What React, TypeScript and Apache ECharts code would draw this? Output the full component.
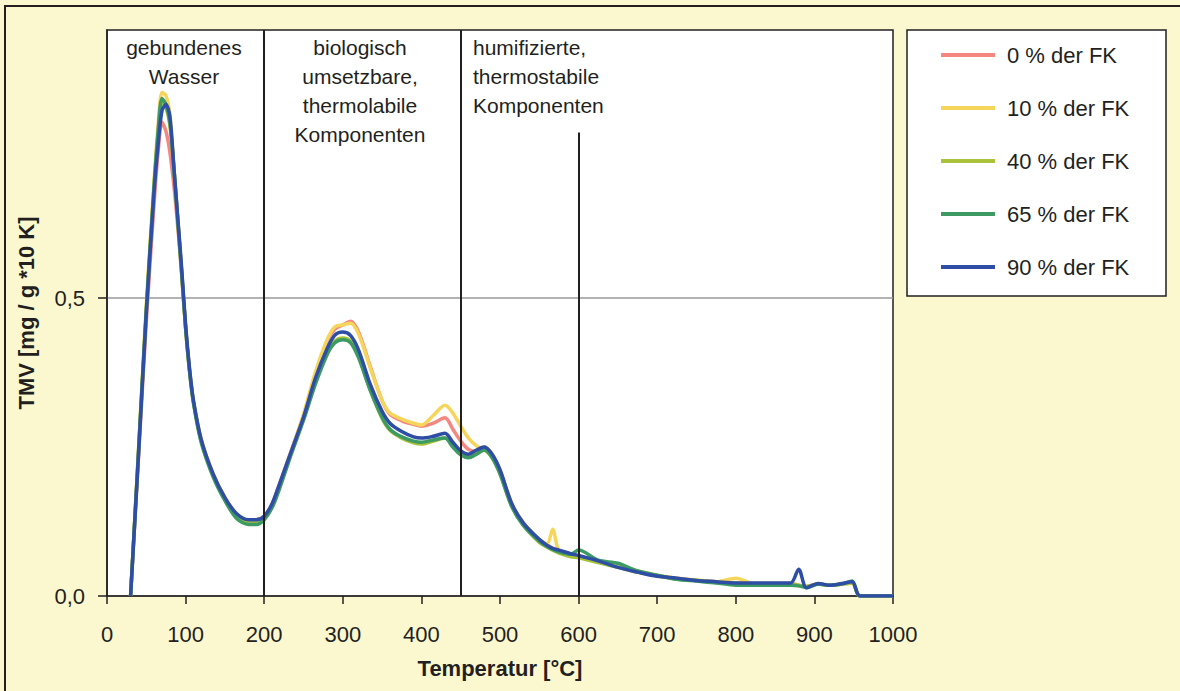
import React, { useEffect, useRef } from "react";
import * as echarts from "echarts";

const temps = [30, 40, 50, 60, 65, 70, 75, 80, 85, 90, 95, 100, 105, 110, 120, 135, 150, 165, 180, 190, 200, 210, 220, 235, 250, 265, 280, 290, 300, 310, 320, 335, 350, 360, 375, 390, 400, 415, 430, 440, 450, 460, 470, 480, 490, 500, 515, 530, 550, 560, 567, 575, 590, 600, 625, 650, 675, 700, 725, 750, 775, 800, 825, 850, 870, 880, 890, 905, 920, 935, 948, 958, 1000];

const fk0 = [0, 0.23, 0.46, 0.66, 0.745, 0.795, 0.78, 0.745, 0.69, 0.62, 0.54, 0.45, 0.38, 0.327, 0.262, 0.205, 0.165, 0.137, 0.127, 0.128, 0.134, 0.154, 0.19, 0.246, 0.303, 0.37, 0.428, 0.448, 0.455, 0.461, 0.443, 0.385, 0.328, 0.305, 0.294, 0.288, 0.285, 0.29, 0.299, 0.28, 0.26, 0.246, 0.243, 0.25, 0.237, 0.21, 0.155, 0.122, 0.094, 0.086, 0.08, 0.076, 0.07, 0.067, 0.058, 0.049, 0.041, 0.034, 0.03, 0.026, 0.024, 0.022, 0.021, 0.021, 0.021, 0.018, 0.016, 0.02, 0.018, 0.02, 0.022, 0, 0];
const fk10 = [0, 0.245, 0.49, 0.7, 0.79, 0.845, 0.84, 0.81, 0.725, 0.635, 0.545, 0.45, 0.38, 0.327, 0.262, 0.205, 0.165, 0.137, 0.126, 0.127, 0.133, 0.152, 0.188, 0.245, 0.305, 0.375, 0.43, 0.452, 0.455, 0.458, 0.44, 0.383, 0.328, 0.307, 0.297, 0.29, 0.287, 0.303, 0.32, 0.307, 0.285, 0.265, 0.252, 0.245, 0.235, 0.21, 0.155, 0.122, 0.094, 0.088, 0.112, 0.076, 0.07, 0.066, 0.058, 0.05, 0.042, 0.035, 0.03, 0.027, 0.024, 0.03, 0.02, 0.02, 0.02, 0.017, 0.016, 0.02, 0.018, 0.02, 0.022, 0, 0];
const fk40 = [0, 0.24, 0.48, 0.69, 0.775, 0.83, 0.82, 0.79, 0.72, 0.632, 0.543, 0.45, 0.378, 0.325, 0.259, 0.202, 0.162, 0.133, 0.123, 0.123, 0.13, 0.15, 0.185, 0.243, 0.298, 0.36, 0.41, 0.428, 0.433, 0.428, 0.403, 0.345, 0.298, 0.278, 0.265, 0.257, 0.255, 0.26, 0.265, 0.252, 0.24, 0.235, 0.24, 0.245, 0.232, 0.205, 0.15, 0.118, 0.09, 0.082, 0.077, 0.072, 0.066, 0.064, 0.056, 0.048, 0.04, 0.034, 0.028, 0.026, 0.023, 0.022, 0.02, 0.02, 0.02, 0.018, 0.016, 0.02, 0.018, 0.02, 0.022, 0, 0];
const fk65 = [0, 0.24, 0.48, 0.69, 0.78, 0.835, 0.825, 0.795, 0.72, 0.63, 0.542, 0.45, 0.377, 0.324, 0.257, 0.2, 0.16, 0.13, 0.12, 0.12, 0.128, 0.148, 0.182, 0.24, 0.295, 0.355, 0.405, 0.425, 0.43, 0.425, 0.4, 0.345, 0.3, 0.28, 0.267, 0.26, 0.258, 0.262, 0.265, 0.25, 0.237, 0.232, 0.238, 0.245, 0.232, 0.205, 0.15, 0.118, 0.092, 0.083, 0.078, 0.074, 0.07, 0.077, 0.06, 0.055, 0.042, 0.035, 0.028, 0.025, 0.022, 0.018, 0.018, 0.018, 0.018, 0.017, 0.014, 0.02, 0.018, 0.02, 0.025, 0, 0];
const fk90 = [0, 0.235, 0.475, 0.68, 0.757, 0.815, 0.825, 0.805, 0.72, 0.635, 0.55, 0.455, 0.382, 0.328, 0.262, 0.205, 0.165, 0.138, 0.128, 0.128, 0.134, 0.155, 0.19, 0.245, 0.3, 0.365, 0.415, 0.438, 0.443, 0.437, 0.413, 0.355, 0.31, 0.29, 0.276, 0.267, 0.265, 0.268, 0.273, 0.258, 0.244, 0.238, 0.245, 0.25, 0.238, 0.212, 0.155, 0.122, 0.095, 0.085, 0.08, 0.077, 0.071, 0.068, 0.059, 0.048, 0.04, 0.033, 0.03, 0.026, 0.024, 0.022, 0.022, 0.022, 0.022, 0.045, 0.014, 0.021, 0.018, 0.021, 0.024, 0, 0];

const seriesNames = ["0 % der FK", "10 % der FK", "40 % der FK", "65 % der FK", "90 % der FK"];
const seriesValues = [fk0, fk10, fk40, fk65, fk90];
const seriesColors = ["#F4877F", "#F6D65A", "#A8C23A", "#3C9A62", "#2E4DA5"];

const xTicks = [0, 100, 200, 300, 400, 500, 600, 700, 800, 900, 1000];
const yTicks = [0, 0.5];
const yTickLabels = ["0,0", "0,5"];
const boundaries = [200, 450];
const shortBoundary = 600;
const shortBoundaryTop = 0.778;

const regionLabels = [
  "gebundenes\nWasser",
  "biologisch\numsetzbare,\nthermolabile\nKomponenten",
  "humifizierte,\nthermostabile\nKomponenten",
];

const FONT = "'Liberation Sans', Arial, Helvetica, sans-serif";
const INK = "#231f20";

export default function App() {
  const ref = useRef<HTMLDivElement>(null);

  useEffect(() => {
    document.body.style.margin = "0";
    const chart = echarts.init(ref.current!, null, { renderer: "svg" });

    const markLineData: any[] = boundaries.map((b) => [
      { coord: [b, 0] },
      { coord: [b, 0.95] },
    ]);
    markLineData.push([{ coord: [shortBoundary, 0] }, { coord: [shortBoundary, shortBoundaryTop] }]);

    const series: any[] = seriesValues.map((vals, i) => ({
      name: seriesNames[i],
      type: "line",
      data: temps.map((t, j) => [t, vals[j]]),
      showSymbol: false,
      smooth: 0.3,
      lineStyle: { color: seriesColors[i], width: 3.5 },
      itemStyle: { color: seriesColors[i] },
      z: 3,
    }));
    series.push({
      name: "boundaries",
      type: "line",
      data: [],
      silent: true,
      z: 4,
      markLine: {
        silent: true,
        symbol: "none",
        label: { show: false },
        lineStyle: { color: INK, width: 2, type: "solid" },
        data: markLineData,
      },
    });

    chart.setOption({
      animation: false,
      backgroundColor: "#FBF8D0",
      textStyle: { fontFamily: FONT },
      grid: {
        left: 107,
        right: 287,
        top: 30,
        bottom: 95,
        show: true,
        backgroundColor: "#ffffff",
        borderColor: INK,
        borderWidth: 1.5,
        containLabel: false,
      },
      legend: {
        data: seriesNames,
        orient: "vertical",
        left: 936,
        top: 39,
        icon: "rect",
        itemWidth: 54,
        itemHeight: 4,
        itemGap: 31,
        textStyle: { fontSize: 22, color: INK, fontFamily: FONT, lineHeight: 22, padding: [0, 0, 0, 7] },
        selectedMode: false,
      },
      xAxis: {
        type: "value",
        min: 0,
        max: 1000,
        interval: 100,
        name: "Temperatur [°C]",
        nameLocation: "middle",
        nameGap: 61,
        nameTextStyle: { fontSize: 22, fontWeight: "bold", color: INK, fontFamily: FONT },
        axisLine: { show: true, lineStyle: { color: INK, width: 1.5 } },
        axisTick: { show: true, length: 8, inside: false, lineStyle: { color: INK, width: 1.5 } },
        axisLabel: {
          fontSize: 22,
          color: INK,
          margin: 27,
          formatter: (v: number) => (xTicks.indexOf(v) >= 0 ? String(v) : ""),
        },
        splitLine: { show: false },
      },
      yAxis: {
        type: "value",
        min: 0,
        max: 0.95,
        interval: 0.5,
        name: "TMV [mg / g *10 K]",
        nameLocation: "middle",
        nameGap: 70,
        nameTextStyle: { fontSize: 22, fontWeight: "bold", color: INK, fontFamily: FONT },
        axisLine: { show: true, lineStyle: { color: INK, width: 1.5 } },
        axisTick: { show: true, length: 9, customValues: yTicks, lineStyle: { color: INK, width: 1.5 } },
        axisLabel: {
          fontSize: 22,
          color: INK,
          margin: 22,
          formatter: (v: number) => {
            const k = yTicks.indexOf(v);
            return k >= 0 ? yTickLabels[k] : "";
          },
        },
        splitLine: { show: true, lineStyle: { color: "#9a9a9a", width: 1.5 } },
      },
      graphic: [
        {
          type: "rect",
          z: -10,
          silent: true,
          shape: { x: 5, y: 6, width: 1200, height: 720 },
          style: { fill: "none", stroke: INK, lineWidth: 2 },
        },
        {
          type: "rect",
          z: -5,
          silent: true,
          shape: { x: 907, y: 30, width: 259, height: 266 },
          style: { fill: "#ffffff", stroke: INK, lineWidth: 1.5 },
        },
        {
          type: "text",
          x: 184,
          y: 33,
          z: 10,
          style: { text: regionLabels[0], fill: INK, font: `21px ${FONT}`, textAlign: "center", textVerticalAlign: "top", lineHeight: 29 },
        },
        {
          type: "text",
          x: 360,
          y: 33,
          z: 10,
          style: { text: regionLabels[1], fill: INK, font: `21px ${FONT}`, textAlign: "center", textVerticalAlign: "top", lineHeight: 29 },
        },
        {
          type: "text",
          x: 473,
          y: 33,
          z: 10,
          style: { text: regionLabels[2], fill: INK, font: `21px ${FONT}`, textAlign: "left", textVerticalAlign: "top", lineHeight: 29 },
        },
      ],
      series,
    });

    return () => chart.dispose();
  }, []);

  return (
    <div
      ref={ref}
      style={{ position: "fixed", left: 0, top: 0, width: 1180, height: 691 }}
    />
  );
}
